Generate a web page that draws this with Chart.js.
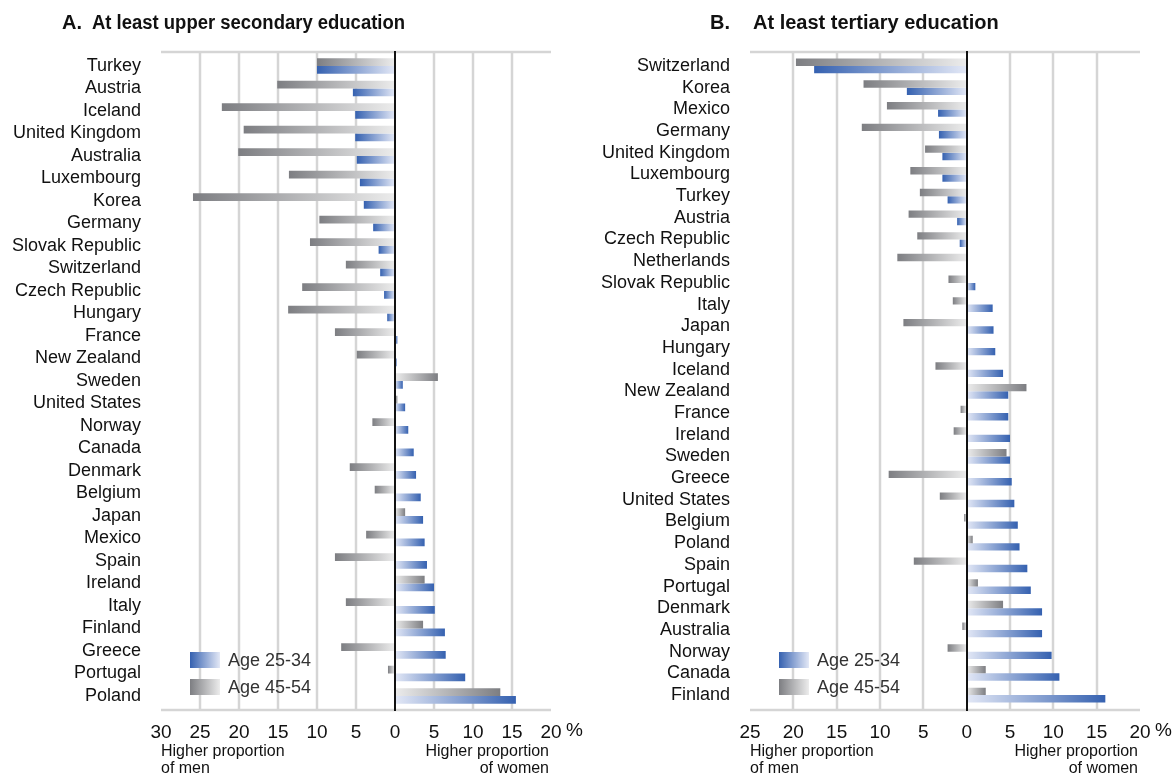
<!DOCTYPE html>
<html>
<head>
<meta charset="utf-8">
<script src="https://cdn.jsdelivr.net/npm/chart.js@4.4.1/dist/chart.umd.min.js"></script>
<style>
body { margin: 0; background: #fff; width: 1172px; height: 776px; overflow: hidden; position: relative; }
canvas { position: absolute; top: 0; }
#chart-a { left: 0; }
#chart-b { left: 589px; }
</style>
</head>
<body>
<canvas id="chart-a" width="585" height="776"></canvas>
<canvas id="chart-b" width="583" height="776"></canvas>
<script>
// Panel A: at least upper secondary education
const countriesA = ['Turkey', 'Austria', 'Iceland', 'United Kingdom', 'Australia', 'Luxembourg', 'Korea', 'Germany',
    'Slovak Republic', 'Switzerland', 'Czech Republic', 'Hungary', 'France', 'New Zealand', 'Sweden', 'United States',
    'Norway', 'Canada', 'Denmark', 'Belgium', 'Japan', 'Mexico', 'Spain', 'Ireland', 'Italy', 'Finland', 'Greece',
    'Portugal', 'Poland'];
const young_A = [-10.0, -5.4, -5.1, -5.1, -4.9, -4.5, -4.0, -2.8, -2.1, -1.9, -1.4, -1.0, 0.3, 0.2, 1.0, 1.3,
    1.7, 2.4, 2.7, 3.3, 3.6, 3.8, 4.1, 5.0, 5.1, 6.4, 6.5, 9.0, 15.5];
const older_A = [-10.0, -15.1, -22.2, -19.4, -20.1, -13.6, -25.9, -9.7, -10.9, -6.3, -11.9, -13.7, -7.7, -4.9, 5.5, 0.3,
    -2.9, 0, -5.8, -2.6, 1.3, -3.7, -7.7, 3.8, -6.3, 3.6, -6.9, -0.9, 13.5];
const ticksA = [-30, -25, -20, -15, -10, -5, 0, 5, 10, 15, 20];

// Panel B: at least tertiary education
const countriesB = ['Switzerland', 'Korea', 'Mexico', 'Germany', 'United Kingdom', 'Luxembourg', 'Turkey', 'Austria',
    'Czech Republic', 'Netherlands', 'Slovak Republic', 'Italy', 'Japan', 'Hungary', 'Iceland', 'New Zealand', 'France',
    'Ireland', 'Sweden', 'Greece', 'United States', 'Belgium', 'Poland', 'Spain', 'Portugal', 'Denmark', 'Australia',
    'Norway', 'Canada', 'Finland'];
const young_B = [-17.6, -6.9, -3.3, -3.2, -2.8, -2.8, -2.2, -1.1, -0.8, 0, 1.0, 3.0, 3.1, 3.3, 4.2, 4.8, 4.8,
    5.0, 5.0, 5.2, 5.5, 5.9, 6.1, 7.0, 7.4, 8.7, 8.7, 9.8, 10.7, 16.0];
const older_B = [-19.7, -11.9, -9.2, -12.1, -4.8, -6.5, -5.4, -6.7, -5.7, -8.0, -2.1, -1.6, -7.3, 0, -3.6, 6.9, -0.7,
    -1.5, 4.6, -9.0, -3.1, -0.3, 0.7, -6.1, 1.3, 4.2, -0.5, -2.2, 2.2, 2.2];
const ticksB = [-25, -20, -15, -10, -5, 0, 5, 10, 15, 20];

const seriesNames = ['Age 25-34', 'Age 45-54'];

const FONT = '"Liberation Sans", Arial, Helvetica, sans-serif';
const BLUE_DARK = '#3561b0', BLUE_LIGHT = '#e3e8f6';
const GREY_DARK = '#7d7e82', GREY_LIGHT = '#ececec';

// light at zero, dark at the bar tip
function barFill(dark, light) {
    return function (ctx) {
        const chart = ctx.chart;
        const x = chart.scales.x;
        const v = ctx.raw;
        if (!x || !chart.chartArea || !v) return dark;
        const x0 = x.getPixelForValue(0);
        const x1 = x.getPixelForValue(v);
        const g = chart.ctx.createLinearGradient(x0, 0, x1, 0);
        g.addColorStop(0, light);
        g.addColorStop(1, dark);
        return g;
    };
}

function decorations(cfg) {
    const lineTop = 52, lineBottom = 710;
    return {
        id: 'decorations',
        beforeDatasetsDraw(chart) {
            const c = chart.ctx, a = chart.chartArea, x = chart.scales.x;
            c.save();
            c.strokeStyle = '#d5d5d5';
            c.lineWidth = 2.5;
            cfg.ticks.forEach((t, i) => {
                if (t === 0 || i === 0 || i === cfg.ticks.length - 1) return;
                const px = Math.round(x.getPixelForValue(t));
                c.beginPath();
                c.moveTo(px, lineTop);
                c.lineTo(px, lineBottom);
                c.stroke();
            });
            c.beginPath();
            c.moveTo(a.left, lineTop);
            c.lineTo(a.right, lineTop);
            c.moveTo(a.left, lineBottom);
            c.lineTo(a.right, lineBottom);
            c.stroke();
            c.restore();
        },
        afterDatasetsDraw(chart) {
            const c = chart.ctx, x = chart.scales.x;
            const px = Math.round(x.getPixelForValue(0));
            c.save();
            c.strokeStyle = '#111';
            c.lineWidth = 2;
            c.beginPath();
            c.moveTo(px, lineTop - 1);
            c.lineTo(px, lineBottom + 1);
            c.stroke();
            c.restore();
        },
        afterDraw(chart) {
            const c = chart.ctx, a = chart.chartArea;
            c.save();
            c.fillStyle = '#111';
            c.textBaseline = 'middle';
            c.font = 'bold 20px ' + FONT;
            c.fillText(cfg.letter, cfg.letterX, 23);
            c.fillText(cfg.title, cfg.titleX, 23, cfg.titleWidth);

            // legend
            const lx = a.left + 29;
            [[BLUE_DARK, BLUE_LIGHT, 652], [GREY_DARK, GREY_LIGHT, 679]].forEach((s, i) => {
                const g = c.createLinearGradient(lx, 0, lx + 30, 0);
                g.addColorStop(0, s[0]);
                g.addColorStop(1, s[1]);
                c.fillStyle = g;
                c.fillRect(lx, s[2], 30, 16);
                c.fillStyle = '#333';
                c.font = '18px ' + FONT;
                c.fillText(seriesNames[i], lx + 38, s[2] + 9);
            });

            // percent sign and side notes
            c.fillStyle = '#111';
            c.font = '19px ' + FONT;
            c.fillText('%', a.right + 15, 731);
            c.font = '16px ' + FONT;
            c.textAlign = 'left';
            c.fillText('Higher proportion', a.left, 752);
            c.fillText('of men', a.left, 769);
            c.textAlign = 'right';
            c.fillText('Higher proportion', a.right - 2, 752);
            c.fillText('of women', a.right - 2, 769);
            c.restore();
        }
    };
}

function createChart(id, labels, young, older, ticks, top, bottom, padRight, tickPad, deco) {
    const canvas = document.getElementById(id);
    return new Chart(canvas, {
        type: 'bar',
        data: {
            labels: labels,
            datasets: [{
                label: seriesNames[1],
                data: older,
                backgroundColor: barFill(GREY_DARK, GREY_LIGHT),
                categoryPercentage: 0.68,
                barPercentage: 1.0
            }, {
                label: seriesNames[0],
                data: young,
                backgroundColor: barFill(BLUE_DARK, BLUE_LIGHT),
                categoryPercentage: 0.68,
                barPercentage: 1.0
            }]
        },
        options: {
            indexAxis: 'y',
            responsive: false,
            animation: false,
            layout: { padding: { top: top, right: padRight, left: 0, bottom: 0 } },
            plugins: { legend: { display: false }, tooltip: { enabled: false } },
            scales: {
                x: {
                    min: ticks[0],
                    max: ticks[ticks.length - 1],
                    afterBuildTicks: (scale) => { scale.ticks = ticks.map(v => ({ value: v })); },
                    afterFit: (scale) => { scale.height = 776 - bottom; },
                    grid: { display: false, drawTicks: false },
                    border: { display: false },
                    ticks: {
                        autoSkip: false,
                        maxRotation: 0,
                        padding: tickPad,
                        color: '#111',
                        font: { family: FONT, size: 19 },
                        callback: (v) => Math.abs(v)
                    }
                },
                y: {
                    afterFit: (scale) => { scale.width = 161; },
                    grid: { display: false, drawTicks: false },
                    border: { display: false },
                    ticks: {
                        autoSkip: false,
                        padding: 20,
                        color: '#111',
                        font: { family: FONT, size: 18 }
                    }
                }
            }
        },
        plugins: [decorations(deco)]
    });
}

createChart('chart-a', countriesA, young_A, older_A, ticksA, 54.75, 707.25, 34, 14,
    { letter: 'A.', letterX: 62, title: 'At least upper secondary education', titleX: 92, titleWidth: 313, ticks: ticksA });
createChart('chart-b', countriesB, young_B, older_B, ticksB, 55.15, 705.85, 32, 16,
    { letter: 'B.', letterX: 121, title: 'At least tertiary education', titleX: 164, titleWidth: 260, ticks: ticksB });
</script>
</body>
</html>
